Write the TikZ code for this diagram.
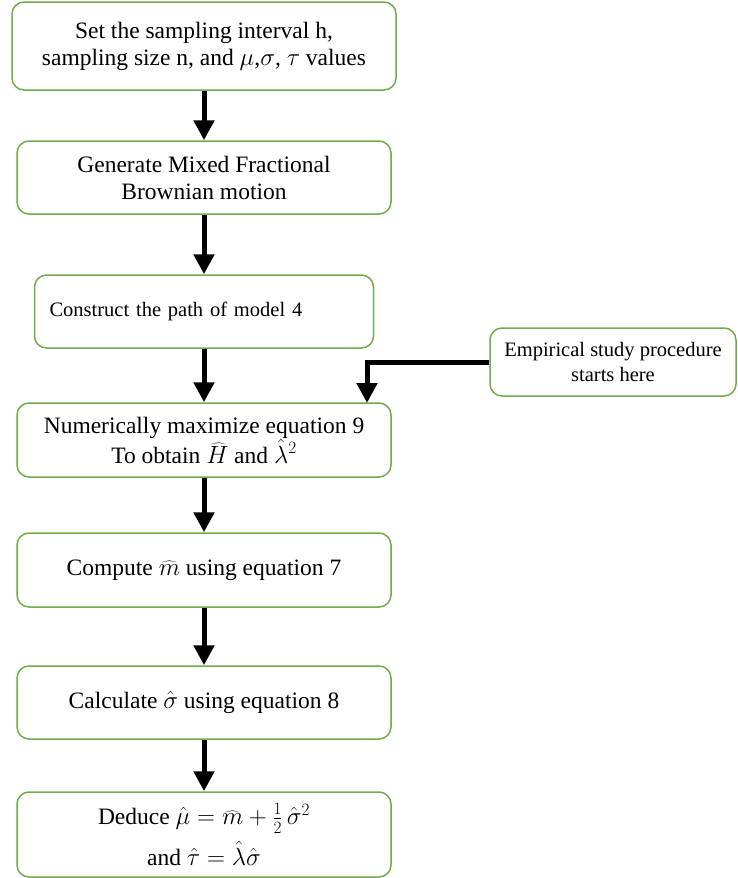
\documentclass[tikz,border=0pt]{standalone}
\usepackage{fontspec}
\setmainfont{Liberation Serif}
\usetikzlibrary{arrows.meta,positioning}
\definecolor{boxgreen}{RGB}{112,173,71}

\begin{document}
\begin{tikzpicture}[
      x=1pt, y=-1pt,
      font=\fontsize{23.5}{27}\selectfont,
      stepbox/.style={rectangle, rounded corners=12pt, draw=boxgreen, line width=1.5pt,
                 align=center, minimum width=374pt, minimum height=73pt, fill=white},
      smallbox/.style={stepbox, font=\fontsize{20.5}{25}\selectfont},
      arr/.style={-{Triangle[length=20pt,width=20pt]}, line width=5pt, black},
    ]
    \useasboundingbox (0,0) rectangle (737,878);
    \node[stepbox, minimum width=384pt, minimum height=88pt] (s1) at (204,46)  {Set the sampling interval h,\\ sampling size n, and $\mu$,$\sigma$, $\tau$ values};
    \node[stepbox] (s2) at (204,177.5) {Generate Mixed Fractional\\ Brownian motion};
    \node[smallbox, minimum width=339pt, text width=309pt, inner xsep=15pt, align=left] (s3) at (204,311.5) {Construct the path of model 4};
    \node[stepbox, minimum height=74pt] (s4) at (204,440) {Numerically maximize equation 9\\ To obtain $\widehat{H}$ and $\hat{\lambda}^2$};
    \node[stepbox, minimum height=74pt] (s5) at (204,570) {Compute $\widehat{m}$ using equation 7};
    \node[stepbox] (s6) at (204,702.5) {Calculate $\hat{\sigma}$ using equation 8};
    \node[stepbox, minimum height=85pt] (s7) at (204,834.5) {Deduce $\hat{\mu}=\widehat{m}+\frac{1}{2}\,\hat{\sigma}^2$\\[7pt] and $\hat{\tau}=\hat{\lambda}\hat{\sigma}$};
    \node[smallbox, minimum width=246pt, minimum height=68pt] (emp) at (613,362) {Empirical study procedure\\ starts here};
    \coordinate (join) at (367,403);
    \draw[arr] (s1) -- (s2);
    \draw[arr] (s2) -- (s3);
    \draw[arr] (s3) -- (s4);
    \draw[arr] (s4) -- (s5);
    \draw[arr] (s5) -- (s6);
    \draw[arr] (s6) -- (s7);
    \draw[arr] (emp.west) -| (join);
  \end{tikzpicture}
\end{document}
